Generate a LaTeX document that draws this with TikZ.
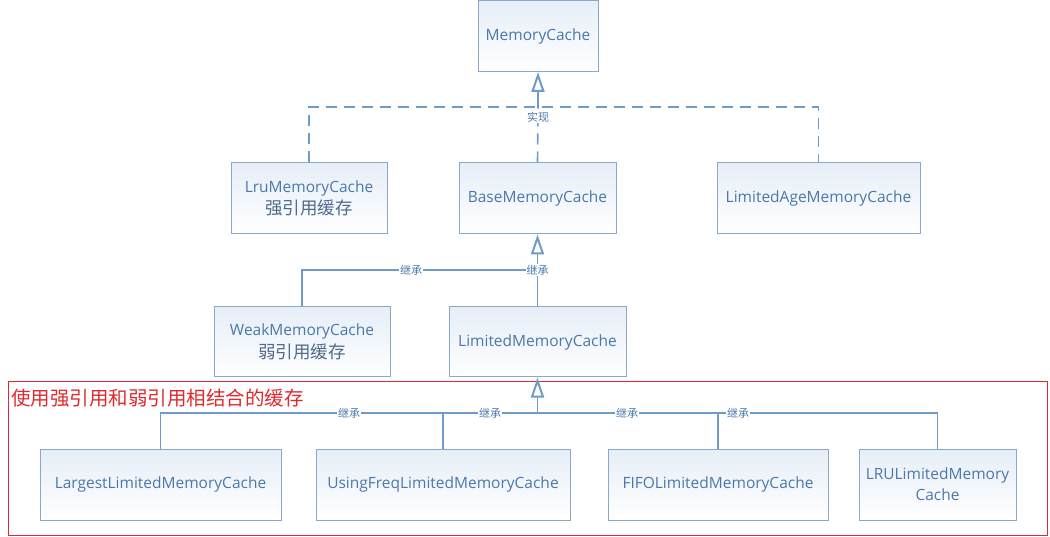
\documentclass[tikz,border=0pt]{standalone}
\usepackage{fontspec}
\setmainfont{Open Sans}
\newfontfamily\cjk{Noto Sans CJK SC}
\usetikzlibrary{arrows.meta,positioning}
\definecolor{linec}{HTML}{6F9BC6}
\definecolor{borderc}{HTML}{8AA8C8}
\definecolor{textc}{HTML}{4A78AC}
\definecolor{cjkc}{HTML}{4F6A8C}
\definecolor{tintc}{HTML}{E6EEF7}
\definecolor{redc}{HTML}{E0292E}
\tikzset{
  cls/.style={draw=borderc, line width=1pt, top color=tintc, bottom color=white,
    text=textc, font=\fontsize{15.5}{18}\selectfont, align=center, inner sep=0pt},
  conn/.style={draw=linec, line width=1.6pt},
  dashconn/.style={conn, dash pattern=on 11pt off 7pt},
  opentip/.style={arrows={-Triangle[open,fill=white,length=20pt,width=13pt,line width=2pt]}},
  lbl/.style={fill=white, text=textc, inner sep=1pt, font=\cjk\fontsize{11}{12}\selectfont},
}
\newcommand{\cjkbig}[1]{{\cjk\fontsize{17.5}{20}\selectfont\color{cjkc}#1}}
\begin{document}
\begin{tikzpicture}[x=1pt,y=-1pt]
\useasboundingbox (0,0) rectangle (1050,537);
% red group
\node[draw=redc, line width=1pt, minimum width=1039pt, minimum height=153pt, inner sep=0pt] (grp) at (527.5,458.5) {};
\node[anchor=west, text=redc, inner sep=0pt, font=\cjk\fontsize{19.5}{21}\selectfont] (grplbl) at (11,398) {使用强引用和弱引用相结合的缓存};
% classes
\node[cls, minimum width=120pt, minimum height=71pt] (mc) at (538,36) {MemoryCache};
\node[cls, minimum width=156pt, minimum height=71pt] (lru) at (309,198.5) {LruMemoryCache\\[3pt]\cjkbig{强引用缓存}};
\node[cls, minimum width=157pt, minimum height=71pt] (base) at (537.5,198.5) {BaseMemoryCache};
\node[cls, minimum width=203pt, minimum height=71pt] (age) at (818.5,198.5) {LimitedAgeMemoryCache};
\node[cls, minimum width=176pt, minimum height=70pt] (weak) at (302,342) {WeakMemoryCache\\[3pt]\cjkbig{弱引用缓存}};
\node[cls, minimum width=177pt, minimum height=70pt] (lim) at (537.5,342) {LimitedMemoryCache};
\node[cls, minimum width=241pt, minimum height=71pt] (largest) at (160.5,484.5) {LargestLimitedMemoryCache};
\node[cls, minimum width=254pt, minimum height=71pt] (using) at (443,484.5) {UsingFreqLimitedMemoryCache};
\node[cls, minimum width=220pt, minimum height=71pt] (fifo) at (718,484.5) {FIFOLimitedMemoryCache};
\node[cls, minimum width=157pt, minimum height=71pt] (lrul) at (937.5,484.5) {LRULimitedMemory\\[3pt]Cache};
% realization
\coordinate (j1) at (538,107);
\draw[dashconn] (lru.north) |- (j1) -| (age.north);
\draw[dashconn] (base.north) -- (j1);
\draw[conn, opentip] (j1) -- (mc.south);
\node[lbl] (l1) at (538,117) {实现};
% inheritance 1
\coordinate (j2) at (537.5,270);
\draw[conn] (weak.north) |- (j2);
\draw[conn, opentip] (lim.north) -- (base.south);
\node[lbl] (l2) at (411,270) {继承};
\node[lbl] (l3) at (537.5,270) {继承};
% inheritance 2
\coordinate (j3) at (537.5,413);
\draw[conn] (largest.north) |- (j3) -| (lrul.north);
\draw[conn] (using.north) -- (using.north |- j3);
\draw[conn] (fifo.north) -- (fifo.north |- j3);
\draw[conn, opentip] (j3) -- (lim.south);
\node[lbl] (l4) at (349,413) {继承};
\node[lbl] (l5) at (490,413) {继承};
\node[lbl] (l6) at (627,413) {继承};
\node[lbl] (l7) at (738,413) {继承};
\end{tikzpicture}
\end{document}
